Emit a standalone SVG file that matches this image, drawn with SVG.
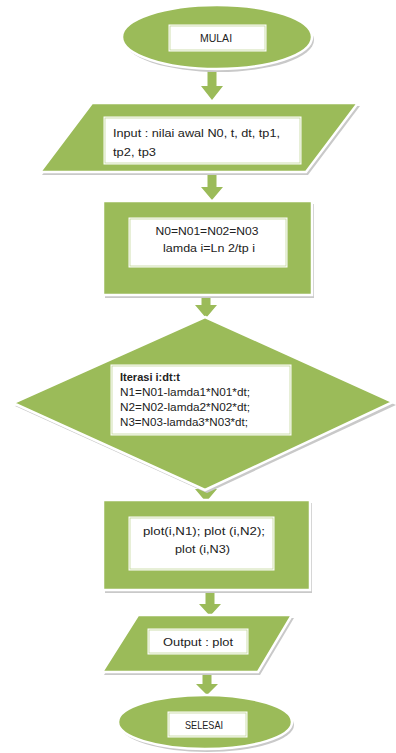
<svg xmlns="http://www.w3.org/2000/svg" width="396" height="753" viewBox="0 0 396 753">
<defs>
<style>
.sh{fill:#c9c9c9;}
.g{fill:#9bbb59;stroke:#ffffff;stroke-width:2.5;}
.bx{fill:#ffffff;stroke:#9bbb59;stroke-width:1;}
.bxi{fill:none;stroke:#c3d69b;stroke-width:0.8;}
.t{font-family:"Liberation Sans",Arial,sans-serif;font-size:10.5px;fill:#222222;}
.c{text-anchor:middle;}
.b{font-weight:bold;}
.ar{fill:#9bbb59;}
</style>
</defs>
<rect width="396" height="753" fill="#ffffff"/>

<g id="connectors">
<polygon class="ar" points="207.5,68 216.5,68 216.5,86 223,86 212,100 201,86 207.5,86"/>
<polygon class="ar" points="207.5,172 216.5,172 216.5,187 223,187 212,200 201,187 207.5,187"/>
<polygon class="ar" points="201.5,295 210.5,295 210.5,305 217,305 206,318 195,305 201.5,305"/>
<polygon class="ar" points="201.5,482 210.5,482 210.5,489 217,489 206,502 195,489 201.5,489"/>
<polygon class="ar" points="205.5,590 214.5,590 214.5,604 221,604 210,616 199,604 205.5,604"/>
<polygon class="ar" points="202.5,672 211.5,672 211.5,684 218,684 207,695 196,684 202.5,684"/>
</g>

<g id="start">
<ellipse class="sh" cx="219" cy="40" rx="95" ry="32"/>
<ellipse class="g" cx="217" cy="37" rx="95" ry="32"/>
<rect class="bx" x="168" y="24" width="99" height="28"/>
<rect class="bxi" x="170" y="26" width="95" height="24"/>
<text class="t c" x="216" y="42" font-size="11">MULAI</text>
</g>

<g id="input">
<polygon class="sh" points="94,106 360,106 308,175 42,175"/>
<polygon class="g" points="92,103 358,103 306,172 40,172"/>
<rect class="bx" x="103" y="116" width="199" height="49"/>
<rect class="bxi" x="105" y="118" width="195" height="45"/>
<text class="t" x="113" y="137" textLength="167" lengthAdjust="spacingAndGlyphs">Input : nilai awal N0, t, dt, tp1,</text>
<text class="t" x="113" y="156" textLength="43" lengthAdjust="spacingAndGlyphs">tp2, tp3</text>
</g>

<g id="init">
<rect class="sh" x="105" y="204" width="209" height="94"/>
<rect class="g" x="103" y="201" width="209" height="94"/>
<rect class="bx" x="128" y="217" width="160" height="51"/>
<rect class="bxi" x="130" y="219" width="156" height="47"/>
<text class="t c" x="207" y="235" textLength="103" lengthAdjust="spacingAndGlyphs">N0=N01=N02=N03</text>
<text class="t c" x="209" y="252" textLength="92" lengthAdjust="spacingAndGlyphs">lamda i=Ln 2/tp i</text>
</g>

<g id="loop">
<polygon class="sh" points="207,320 396,405 207,493 15,406"/>
<polygon class="g" points="205,317 393,402 205,490 13,403"/>
<rect class="bx" x="110" y="364" width="182" height="72"/>
<rect class="bxi" x="112" y="366" width="178" height="68"/>
<text class="t b" x="120" y="381" textLength="60" lengthAdjust="spacingAndGlyphs">Iterasi i:dt:t</text>
<text class="t" x="120" y="396" textLength="130" lengthAdjust="spacingAndGlyphs">N1=N01-lamda1*N01*dt;</text>
<text class="t" x="120" y="411" textLength="130" lengthAdjust="spacingAndGlyphs">N2=N02-lamda2*N02*dt;</text>
<text class="t" x="120" y="426" textLength="128" lengthAdjust="spacingAndGlyphs">N3=N03-lamda3*N03*dt;</text>
</g>

<g id="plot">
<rect class="sh" x="105" y="503" width="207" height="90"/>
<rect class="g" x="103" y="500" width="207" height="90"/>
<rect class="bx" x="128" y="516" width="147" height="55"/>
<rect class="bxi" x="130" y="518" width="143" height="51"/>
<text class="t c" x="204" y="535" textLength="122" lengthAdjust="spacingAndGlyphs">plot(i,N1); plot (i,N2);</text>
<text class="t c" x="202.5" y="553" textLength="55" lengthAdjust="spacingAndGlyphs">plot (i,N3)</text>
</g>

<g id="output">
<polygon class="sh" points="140,618 294,618 260,675 104,675"/>
<polygon class="g" points="138,615 292,615 258,672 102,672"/>
<rect class="bx" x="147" y="628" width="102" height="27"/>
<rect class="bxi" x="149" y="630" width="98" height="23"/>
<text class="t c" x="198" y="646" textLength="70" lengthAdjust="spacingAndGlyphs">Output : plot</text>
</g>

<g id="end">
<ellipse class="sh" cx="207" cy="725" rx="87" ry="27"/>
<ellipse class="g" cx="205" cy="722" rx="87" ry="27"/>
<rect class="bx" x="167" y="711" width="81" height="27"/>
<rect class="bxi" x="169" y="713" width="77" height="23"/>
<text class="t c" x="204" y="729" textLength="38" lengthAdjust="spacingAndGlyphs">SELESAI</text>
</g>
</svg>
